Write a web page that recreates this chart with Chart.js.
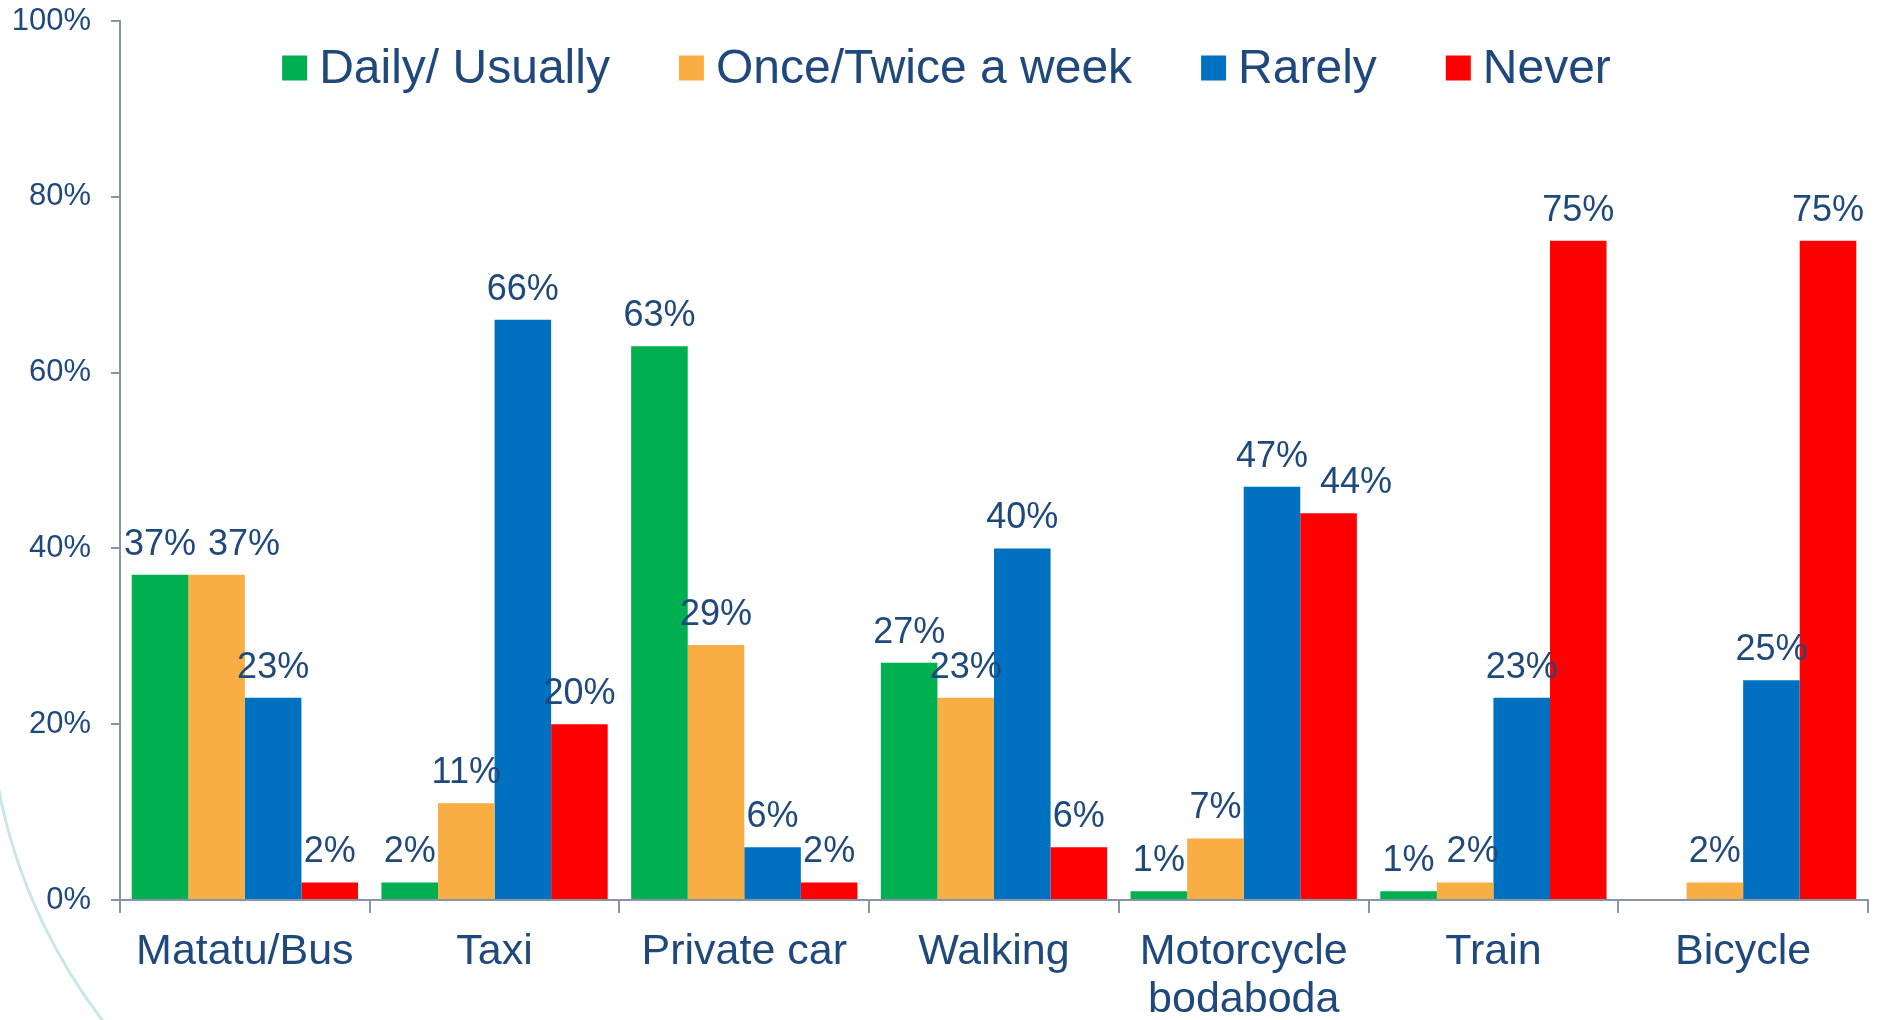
<!DOCTYPE html>
<html>
<head>
<meta charset="utf-8">
<title>Transport use</title>
<script src="https://cdn.jsdelivr.net/npm/chart.js@4.4.1/dist/chart.umd.min.js"></script>
<style>
  html, body { margin: 0; padding: 0; background: #fff; overflow: hidden; }
  #canvas { display: block; }
</style>
</head>
<body>
<canvas id="canvas" width="1881" height="1020"></canvas>
<script>
// values (percent)
const categories = ['Matatu/Bus', 'Taxi', 'Private car', 'Walking', ['Motorcycle', 'bodaboda'], 'Train', 'Bicycle'];
const seriesNames = ['Daily/ Usually', 'Once/Twice a week', 'Rarely', 'Never'];
const dailyValues = [37, 2, 63, 27, 1, 1, null];
const weeklyValues = [37, 11, 29, 23, 7, 2, 2];
const rarelyValues = [23, 66, 6, 40, 47, 23, 25];
const neverValues = [2, 20, 2, 6, 44, 75, 75];
const yTicks = [0, 20, 40, 60, 80, 100];

const seriesColors = ['#00B050', '#F8AE42', '#0070C0', '#FF0000'];
const textColor = '#1F497D';
const axisColor = '#8A94A6';
const fontFamily = '"Liberation Sans", Arial, sans-serif';

// light decorative arc in the bottom-left corner
const backdropArc = {
    id: 'backdropArc',
    beforeDraw(chart) {
        const ctx = chart.ctx;
        ctx.save();
        ctx.strokeStyle = '#C9E7E7';
        ctx.lineWidth = 3;
        ctx.beginPath();
        ctx.arc(538, 686, 549, 2.3, 3.1);
        ctx.stroke();
        ctx.restore();
    }
};

// value labels above the bars, nudged right when two collide
const valueLabels = {
    id: 'valueLabels',
    afterDatasetsDraw(chart) {
        const ctx = chart.ctx;
        ctx.save();
        ctx.font = '36px ' + fontFamily;
        ctx.fillStyle = textColor;
        ctx.textAlign = 'center';
        ctx.textBaseline = 'middle';
        categories.forEach((_, j) => {
            let prev = null;
            chart.data.datasets.forEach((ds, i) => {
                const v = ds.data[j];
                if (v === null || v === undefined) return;
                const bar = chart.getDatasetMeta(i).data[j];
                const text = v + '%';
                const w = ctx.measureText(text).width;
                let x = bar.x;
                const y = bar.y - 30;
                if (prev && Math.abs(prev.y - y) < 28 && x - w / 2 < prev.right + 12) {
                    x = prev.right + 12 + w / 2;
                }
                ctx.fillText(text, x, y);
                prev = {y: y, right: x + w / 2};
            });
        });
        ctx.restore();
    }
};

// legend drawn inside the plot area, across the top
const topLegend = {
    id: 'topLegend',
    afterDraw(chart) {
        const ctx = chart.ctx;
        const box = 25, textGap = 12, itemGap = 69;
        ctx.save();
        ctx.font = '48px ' + fontFamily;
        ctx.textBaseline = 'middle';
        const items = chart.data.datasets.map(ds => ({
            label: ds.label,
            color: ds.backgroundColor,
            w: box + textGap + ctx.measureText(ds.label).width
        }));
        const total = items.reduce((s, it) => s + it.w, 0) + itemGap * (items.length - 1);
        let x = chart.width / 2 + 6 - total / 2;
        const yMid = 70;
        items.forEach(it => {
            ctx.fillStyle = it.color;
            ctx.fillRect(x, yMid - box / 2 - 2, box, box);
            ctx.fillStyle = textColor;
            ctx.fillText(it.label, x + box + textGap, yMid);
            x += it.w + itemGap;
        });
        ctx.restore();
    }
};

const seriesValues = [dailyValues, weeklyValues, rarelyValues, neverValues];

const ctx = document.getElementById('canvas').getContext('2d');
const chart = new Chart(ctx, {
    type: 'bar',
    data: {
        labels: categories,
        datasets: seriesNames.map((name, i) => ({
            label: name,
            data: seriesValues[i],
            backgroundColor: seriesColors[i],
            borderWidth: 0,
            categoryPercentage: 0.906,
            barPercentage: 1.0
        }))
    },
    options: {
        responsive: false,
        devicePixelRatio: 1,
        animation: false,
        layout: {padding: {top: 0, right: 13, left: 0, bottom: 0}},
        plugins: {
            legend: {display: false},
            tooltip: {enabled: false}
        },
        scales: {
            x: {
                grid: {
                    display: true,
                    offset: true,
                    drawOnChartArea: false,
                    drawTicks: true,
                    tickLength: 13,
                    color: axisColor,
                    lineWidth: 2
                },
                border: {display: true, color: axisColor, width: 2},
                ticks: {
                    color: textColor,
                    font: {family: fontFamily, size: 43, lineHeight: 1.12},
                    padding: 15,
                    maxRotation: 0,
                    autoSkip: false
                },
                afterFit(scale) { scale.height = 120; }
            },
            y: {
                min: 0,
                max: 100,
                afterBuildTicks(scale) { scale.ticks = yTicks.map(v => ({value: v})); },
                grid: {
                    display: true,
                    drawOnChartArea: false,
                    drawTicks: true,
                    tickLength: 9,
                    color: axisColor,
                    lineWidth: 2
                },
                border: {display: true, color: axisColor, width: 2},
                ticks: {
                    color: textColor,
                    font: {family: fontFamily, size: 31},
                    padding: 20,
                    callback: v => v + '%'
                },
                afterFit(scale) {
                    scale.width = 120;
                    scale.paddingTop = 21;
                    scale.paddingBottom = 0;
                }
            }
        }
    },
    plugins: [backdropArc, valueLabels, topLegend]
});
</script>
</body>
</html>
